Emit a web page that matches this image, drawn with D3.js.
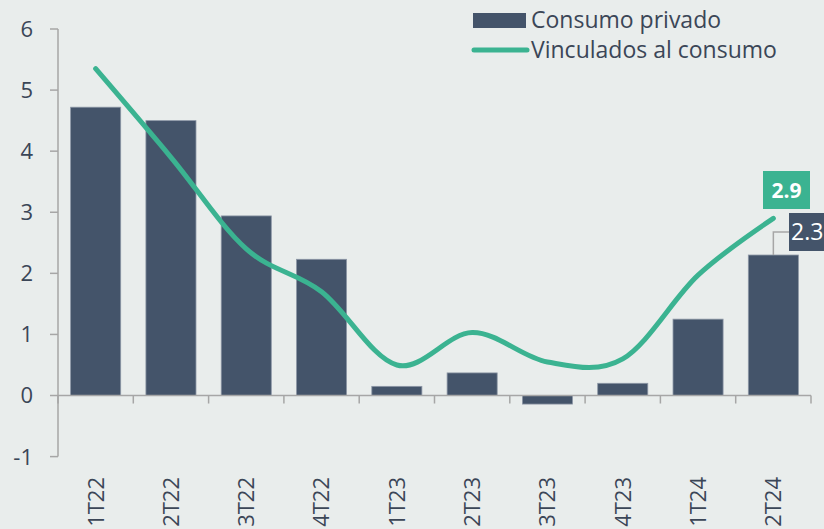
<!DOCTYPE html>
<html>
<head>
<meta charset="utf-8">
<script src="https://cdn.jsdelivr.net/npm/d3@7"></script>
<style>
  html, body { margin: 0; padding: 0; background: #e9edec; }
  svg { display: block; font-family: "Open Sans", Lato, sans-serif; }
  .tick-label { fill: #3b4657; font-size: 22px; }
  .legend-label { fill: #3b4657; font-size: 23px; }
</style>
</head>
<body>
<script>
var w = 824;
var h = 529;

// quarters and series values
var quarters = ['1T22', '2T22', '3T22', '4T22', '1T23', '2T23', '3T23', '4T23', '1T24', '2T24'];
var consumoPrivado = [4.72, 4.5, 2.94, 2.23, 0.15, 0.37, -0.14, 0.2, 1.25, 2.3];
var vinculados = [5.35, 3.9, 2.4, 1.7, 0.5, 1.03, 0.55, 0.6, 1.97, 2.9];
var yTicks = [-1, 0, 1, 2, 3, 4, 5, 6];

var barColor = '#44546a';
var lineColor = '#3bb391';
var axisColor = '#a6a6a6';

var svg = d3.select('body')
  .append('svg')
  .attr('width', w)
  .attr('height', h);

var x = d3.scaleBand()
  .domain(quarters)
  .range([58, 811])
  .paddingInner(0.335)
  .paddingOuter(0.1675);

var xb = d3.scaleBand()
  .domain(quarters)
  .range([58, 811]);

var y = d3.scaleLinear()
  .domain([-1, 6])
  .range([456.6, 29]);

// y axis
svg.append('line')
  .attr('x1', 58).attr('x2', 58)
  .attr('y1', y(6)).attr('y2', y(-1))
  .style('stroke', axisColor)
  .style('stroke-width', 1.5);

svg.selectAll('.ytick')
  .data(yTicks)
  .enter().append('line')
    .attr('class', 'ytick')
    .attr('x1', 50).attr('x2', 58)
    .attr('y1', function(d) { return y(d); })
    .attr('y2', function(d) { return y(d); })
    .style('stroke', axisColor)
    .style('stroke-width', 1.5);

svg.selectAll('.ylab')
  .data(yTicks)
  .enter().append('text')
    .attr('class', 'tick-label ylab')
    .attr('x', 33)
    .attr('y', function(d) { return y(d); })
    .attr('dy', '0.36em')
    .style('text-anchor', 'end')
    .text(function(d) { return d; });

// bars
svg.selectAll('.bar')
  .data(consumoPrivado)
  .enter().append('rect')
    .attr('class', 'bar')
    .attr('x', function(d, i) { return x(quarters[i]); })
    .attr('width', x.bandwidth())
    .attr('y', function(d) { return Math.min(y(d), y(0)); })
    .attr('height', function(d) { return Math.abs(y(d) - y(0)); })
    .style('fill', barColor)
    .style('stroke', '#8d97a6')
    .style('stroke-width', 0.8);

// x axis
svg.append('line')
  .attr('x1', 58).attr('x2', 811)
  .attr('y1', y(0)).attr('y2', y(0))
  .style('stroke', axisColor)
  .style('stroke-width', 1.5);

svg.selectAll('.xtick')
  .data(d3.range(quarters.length + 1))
  .enter().append('line')
    .attr('class', 'xtick')
    .attr('x1', function(d) { return 58 + d * xb.step(); })
    .attr('x2', function(d) { return 58 + d * xb.step(); })
    .attr('y1', y(0))
    .attr('y2', y(0) + 8)
    .style('stroke', axisColor)
    .style('stroke-width', 1.5);

svg.selectAll('.xlab')
  .data(quarters)
  .enter().append('text')
    .attr('class', 'tick-label xlab')
    .attr('transform', function(d) {
      return 'translate(' + (xb(d) + xb.bandwidth() / 2) + ',477) rotate(-90)';
    })
    .attr('dy', '0.36em')
    .style('text-anchor', 'end')
    .text(function(d) { return d; });

// smoothed line
var line = d3.line()
  .x(function(d, i) { return xb(quarters[i]) + xb.bandwidth() / 2; })
  .y(function(d) { return y(d); })
  .curve(d3.curveCardinal.tension(0));

svg.append('path')
  .datum(vinculados)
  .attr('d', line)
  .style('fill', 'none')
  .style('stroke', lineColor)
  .style('stroke-width', 5)
  .style('stroke-linecap', 'round')
  .style('stroke-linejoin', 'round');

// data labels for the last quarter
var last = quarters.length - 1;
var lx = xb(quarters[last]) + xb.bandwidth() / 2;

svg.append('rect')
  .attr('x', 763).attr('y', 171)
  .attr('width', 47).attr('height', 38)
  .style('fill', lineColor);

svg.append('text')
  .attr('x', 786.5).attr('y', 190)
  .attr('dy', '0.36em')
  .style('text-anchor', 'middle')
  .style('fill', '#ffffff')
  .style('font-size', '21px')
  .style('font-weight', 'bold')
  .text(vinculados[last].toFixed(1));

svg.append('path')
  .attr('d', 'M' + lx + ',' + y(consumoPrivado[last]) + 'V232H789')
  .style('fill', 'none')
  .style('stroke', axisColor)
  .style('stroke-width', 1.5);

svg.append('rect')
  .attr('x', 789).attr('y', 213)
  .attr('width', 40).attr('height', 38)
  .style('fill', barColor);

svg.append('text')
  .attr('x', 791).attr('y', 232)
  .attr('dy', '0.36em')
  .style('fill', '#ffffff')
  .style('font-size', '23px')
  .text(consumoPrivado[last].toFixed(1));

// legend
svg.append('rect')
  .attr('x', 473).attr('y', 13)
  .attr('width', 53).attr('height', 15)
  .style('fill', barColor);

svg.append('text')
  .attr('class', 'legend-label')
  .attr('x', 531).attr('y', 20)
  .attr('dy', '0.36em')
  .text('Consumo privado');

svg.append('line')
  .attr('x1', 474).attr('x2', 527)
  .attr('y1', 50).attr('y2', 50)
  .style('stroke', lineColor)
  .style('stroke-width', 5)
  .style('stroke-linecap', 'round');

svg.append('text')
  .attr('class', 'legend-label')
  .attr('x', 531).attr('y', 50)
  .attr('dy', '0.36em')
  .text('Vinculados al consumo');
</script>
</body>
</html>
